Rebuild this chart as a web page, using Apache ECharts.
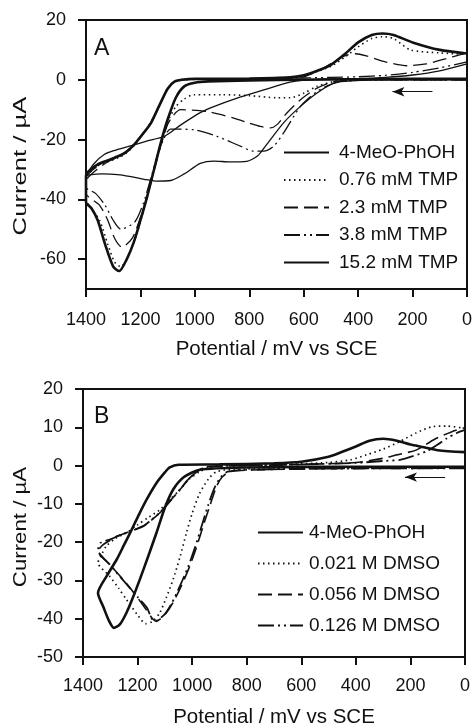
<!DOCTYPE html>
<html>
<head>
<meta charset="utf-8">
<script src="https://cdn.jsdelivr.net/npm/echarts@6/dist/echarts.min.js"></script>
<style>
  html, body { margin: 0; background: #fff; }
  #chart { width: 474px; height: 725px; }
</style>
</head>
<body>
<div id="chart"></div>
<script>
// panel A: 4-MeO-PhOH with TMP, [potential mV, current uA], forward scan then reverse
const namesA = ['4-MeO-PhOH', '0.76 mM TMP', '2.3 mM TMP', '3.8 mM TMP', '15.2 mM TMP']
const aMeoPhoh = [
  [0, 0.3], [200, 0.3], [400, 0.2], [600, 0], [800, -0.2], [950, -0.6], [1000, -1], [1039, -2.2],
  [1070, -6], [1100, -13.3], [1125, -21], [1150, -30], [1175, -39], [1200, -47], [1225, -54.5],
  [1250, -60], [1278, -64], [1300, -62.5], [1330, -55], [1357, -47], [1380, -43], [1400, -41],
  [1400, -32], [1360, -28.5], [1321, -27], [1280, -25.5], [1253, -24.2], [1223, -21.7], [1190, -18],
  [1161, -14.4], [1130, -8.5], [1100, -3], [1075, -0.6], [1040, 0.1], [1000, 0.3], [800, 0.4],
  [650, 0.8], [600, 1.5], [550, 3], [500, 5], [450, 8.5], [400, 12.5], [350, 15], [310, 15.5],
  [270, 15], [200, 12.5], [100, 10], [0, 8.8]
]
const aTmp076 = [
  [0, 0], [300, 0], [450, -0.3], [490, -0.6], [551, -2.2], [600, -4.5], [650, -6], [700, -6],
  [800, -5.3], [900, -5], [1004, -5], [1040, -6.5], [1070, -9], [1100, -14], [1125, -21], [1150, -30],
  [1175, -39], [1200, -47.5], [1225, -54.5], [1250, -60], [1272, -62.5], [1295, -61], [1320, -55],
  [1350, -47], [1380, -43], [1400, -40],
  [1400, -33], [1360, -29], [1321, -27.5], [1280, -26], [1253, -24.6], [1223, -22], [1190, -18],
  [1161, -14.4], [1130, -8.5], [1100, -3], [1075, -0.6], [1040, 0.1], [1000, 0.2], [800, 0.3],
  [650, 0.8], [600, 1.4], [550, 2.8], [500, 4.5], [450, 7.5], [400, 11], [350, 13.8], [312, 14.4],
  [270, 13.8], [208, 10], [100, 9], [0, 8.5]
]
const aTmp23 = [
  [0, 0], [300, 0], [450, -0.3], [490, -0.6], [551, -2.8], [612, -6.7], [662, -11.1], [698, -15],
  [723, -16.1], [760, -15.6], [800, -14.5], [857, -12.8], [955, -10.6], [1053, -10], [1080, -12],
  [1100, -15], [1125, -22], [1150, -30.5], [1175, -39], [1200, -46], [1230, -53], [1268, -56],
  [1295, -53], [1320, -47], [1350, -42], [1400, -38],
  [1400, -34], [1360, -30], [1321, -27.5], [1280, -25.8], [1253, -24.4], [1223, -21.7], [1190, -18],
  [1161, -14.4], [1130, -8.5], [1100, -3], [1075, -0.6], [1040, 0], [1000, 0.2], [800, 0.3],
  [650, 0.6], [600, 1], [539, 3.3], [480, 6.5], [440, 8.3], [410, 8.7], [370, 8], [300, 6],
  [219, 4.7], [150, 5.3], [80, 7], [0, 9]
]
const aTmp38 = [
  [0, 0], [300, 0], [450, -0.4], [500, -1.5], [551, -3.9], [612, -8.9], [674, -17.8], [710, -22.2],
  [747, -23.9], [784, -23.9], [833, -22.2], [919, -18.9], [1004, -16.7], [1090, -16.5], [1115, -20],
  [1140, -26], [1165, -34], [1190, -41.5], [1220, -47.5], [1272, -50], [1300, -47], [1330, -42],
  [1365, -38], [1400, -36],
  [1400, -33], [1360, -29], [1321, -27], [1280, -25.5], [1253, -24], [1223, -21.5], [1190, -17.8],
  [1161, -14], [1130, -8.5], [1100, -3], [1075, -0.6], [1040, 0], [900, 0.2], [700, 0.4],
  [500, 0.8], [400, 1], [300, 1.5], [200, 2.5], [100, 4], [0, 6]
]
const aTmp152 = [
  [0, 0], [300, 0], [450, -0.5], [490, -1.1], [551, -4.4], [612, -8.9], [674, -14.4], [735, -21.5],
  [770, -25.5], [810, -27.3], [870, -27.5], [930, -27.2], [980, -28], [1039, -31.5], [1088, -33.7],
  [1145, -33.9], [1186, -33.3], [1240, -32.3], [1284, -31.7], [1340, -31.5], [1400, -32],
  [1370, -28], [1333, -25], [1290, -23.5], [1247, -22.4], [1180, -20.6], [1112, -18.9], [1050, -15],
  [980, -11], [928, -8.9], [850, -6.3], [750, -3.5], [650, -0.8], [550, 0.2], [400, 0.4],
  [300, 0.8], [200, 1.6], [100, 3], [0, 5.3]
]

// panel B: 4-MeO-PhOH with DMSO
const namesB = ['4-MeO-PhOH', '0.021 M DMSO', '0.056 M DMSO', '0.126 M DMSO']
const bMeoPhoh = [
  [0, -0.3], [400, -0.3], [800, -0.5], [972, -1.1], [1030, -3], [1070, -6.3], [1100, -11],
  [1131, -17.6], [1160, -23.5], [1192, -29.8], [1220, -35], [1241, -38.5], [1265, -41.5],
  [1287, -42.4], [1305, -40.5], [1325, -37], [1345, -33.3],
  [1310, -28.5], [1277, -24.6], [1250, -20.8], [1222, -16.8], [1195, -12.8], [1167, -8.9],
  [1130, -4.5], [1100, -1.8], [1082, -0.5], [1050, 0.2], [900, 0.3], [700, 0.6], [600, 1],
  [500, 2.3], [450, 3.6], [400, 5], [350, 6.5], [300, 7], [250, 6.5], [200, 5.5], [150, 4.8],
  [100, 4], [0, 3.5]
]
const bDmso021 = [
  [0, -0.5], [500, -0.6], [850, -1], [911, -1.6], [940, -3.5], [972, -7.2], [1000, -12.5],
  [1021, -17.6], [1045, -24], [1070, -29.8], [1095, -34.5], [1119, -38.5], [1145, -40.7],
  [1170, -41.3], [1200, -39], [1241, -35], [1270, -32], [1302, -28.9], [1345, -25.4],
  [1330, -23], [1314, -21], [1280, -19], [1241, -17.6], [1200, -15.5], [1160, -13.5], [1119, -11.6],
  [1080, -8.8], [1045, -6.3], [1010, -3.5], [972, -1.6], [940, -0.6], [900, 0], [700, 0.2],
  [500, 0.8], [420, 1.5], [361, 2.8], [300, 4.3], [238, 6.3], [180, 8.5], [116, 10.2],
  [67, 10.3], [0, 9.7]
]
const bDmso056 = [
  [0, -0.7], [500, -0.8], [800, -1.2], [862, -1.6], [890, -3], [911, -5.5], [935, -10.5],
  [960, -15.9], [985, -21.5], [1009, -26.3], [1040, -31.5], [1070, -35.8], [1095, -38.5],
  [1119, -40.2], [1131, -40.7], [1145, -40], [1170, -37.5], [1200, -34.5], [1250, -30],
  [1300, -26], [1345, -22.4],
  [1327, -20.7], [1300, -19.5], [1278, -18.5], [1230, -17.3], [1180, -15.9], [1150, -14.3],
  [1119, -12.4], [1080, -9.2], [1045, -6.3], [1010, -3.3], [972, -1.1], [940, -0.3], [800, 0],
  [600, 0.3], [400, 0.8], [300, 1.9], [250, 2.8], [177, 4.1], [116, 6.7], [50, 8.8], [0, 9.9]
]
const bDmso126 = [
  [0, -0.7], [500, -0.8], [800, -1.1], [870, -1.6], [895, -3], [918, -5.8], [942, -10.5],
  [966, -16], [990, -21.5], [1015, -26.5], [1045, -31.5], [1075, -36], [1100, -38.8],
  [1125, -40.3], [1137, -40.6], [1150, -39.8], [1165, -37.2], [1200, -34.3], [1250, -30.2],
  [1300, -26], [1345, -22],
  [1336, -20.2], [1300, -19.3], [1275, -18.5], [1230, -17.2], [1180, -15.8], [1150, -14.2],
  [1119, -12.3], [1080, -9.2], [1045, -6.3], [1010, -3.3], [972, -1.1], [940, -0.3], [800, 0],
  [600, 0.3], [400, 0.7], [300, 1.2], [238, 1.5], [190, 2.5], [141, 3.7], [100, 5.5], [67, 7.1],
  [30, 8.5], [0, 9.3]
]

// scan direction arrows, [mV, uA]
const arrowA = [[127, -4], [274, -4]]
const arrowB = [[73, -3], [220, -3]]

const yTicksA = [-60, -40, -20, 0, 20]

const font = 'Liberation Sans, Arial, sans-serif'
const ink = '#111'

const lineStylesA = [
  { width: 2.6, type: 'solid' },
  { width: 1.6, type: [1.5, 3.5] },
  { width: 1.3, type: [14, 6] },
  { width: 1.3, type: [16, 4, 2, 4, 2, 4] },
  { width: 1.3, type: 'solid' }
]
const lineStylesB = [
  { width: 2.6, type: 'solid' },
  { width: 1.7, type: [1.5, 3.5] },
  { width: 1.6, type: [14, 6] },
  { width: 1.8, type: [16, 4, 2, 4, 2, 4] }
]

const tick = { show: true, inside: false, length: 8, lineStyle: { color: ink, width: 2 } }

const xAxisBase = (gridIndex, labelMargin, nameGap) => ({
  gridIndex,
  type: 'value',
  inverse: true,
  min: 0,
  max: 1400,
  interval: 200,
  name: 'Potential / mV vs SCE',
  nameLocation: 'middle',
  nameGap,
  nameTextStyle: { fontFamily: font, fontSize: 20.5, color: ink },
  axisLine: { show: true, onZero: false, lineStyle: { color: ink, width: 2 } },
  axisTick: tick,
  axisLabel: { margin: labelMargin, fontFamily: font, fontSize: 18, color: ink, formatter: v => String(v) },
  splitLine: { show: false }
})

const yAxisBase = (gridIndex) => ({
  gridIndex,
  type: 'value',
  axisLine: { show: true, onZero: false, lineStyle: { color: ink, width: 2 } },
  axisTick: tick,
  axisLabel: { margin: 20, fontFamily: font, fontSize: 18, color: ink },
  splitLine: { show: false }
})

const mkSeries = (name, data, style, i, panel) => ({
  name,
  type: 'line',
  xAxisIndex: panel,
  yAxisIndex: panel,
  data,
  symbol: 'none',
  smooth: 0.25,
  lineStyle: { color: ink, ...style },
  itemStyle: { color: ink },
  z: 5 - i
})

const seriesA = [aMeoPhoh, aTmp076, aTmp23, aTmp38, aTmp152].map((d, i) => mkSeries(namesA[i], d, lineStylesA[i], i, 0))
const seriesB = [bMeoPhoh, bDmso021, bDmso056, bDmso126].map((d, i) => mkSeries(namesB[i], d, lineStylesB[i], i, 1))

const arrowMark = (pts) => ({
  silent: true,
  symbol: ['none', 'arrow'],
  symbolSize: [7, 12],
  label: { show: false },
  lineStyle: { color: ink, width: 1.2, type: 'solid' },
  data: [[{ coord: pts[0] }, { coord: pts[1] }]]
})
seriesA[0].markLine = arrowMark(arrowA)
seriesB[0].markLine = arrowMark(arrowB)

const legendBase = {
  orient: 'vertical',
  padding: 0,
  itemWidth: 45,
  itemHeight: 14,
  selectedMode: false,
  itemStyle: { opacity: 0 }
}

const yTitle = (x, y, sx) => ({
  type: 'text',
  x,
  y,
  rotation: Math.PI / 2,
  scaleX: sx,
  style: {
    text: 'Current / µA',
    font: '19px ' + font,
    fill: ink,
    textAlign: 'center',
    textVerticalAlign: 'middle'
  }
})

const chart = echarts.init(document.getElementById('chart'), null, { renderer: 'canvas' })
chart.setOption({
  backgroundColor: '#fff',
  animation: false,
  title: [
    { text: 'A', left: 89, top: 32, textStyle: { fontFamily: font, fontSize: 23, fontWeight: 'normal', color: ink } },
    { text: 'B', left: 89, top: 400, textStyle: { fontFamily: font, fontSize: 23, fontWeight: 'normal', color: ink } }
  ],
  graphic: [yTitle(21, 166, 1.35), yTitle(21, 527, 1.17)],
  grid: [
    { left: 86, top: 20, width: 381, height: 269, show: true, borderColor: ink, borderWidth: 2, outerBoundsMode: 'none' },
    { left: 83, top: 389, width: 382, height: 268, show: true, borderColor: ink, borderWidth: 2, outerBoundsMode: 'none' }
  ],
  xAxis: [xAxisBase(0, 22, 50), xAxisBase(1, 20, 50)],
  yAxis: [
    Object.assign(yAxisBase(0), {
      min: -70,
      max: 20,
      axisTick: Object.assign({}, tick, { customValues: yTicksA }),
      axisLabel: { margin: 20, fontFamily: font, fontSize: 18, color: ink, customValues: yTicksA }
    }),
    Object.assign(yAxisBase(1), { min: -50, max: 20, interval: 10 })
  ],
  legend: [
    Object.assign({}, legendBase, {
      left: 283, top: 143, itemGap: 8.5, data: namesA,
      textStyle: { fontFamily: font, fontSize: 19, color: ink, padding: [0, 0, 0, 5] }
    }),
    Object.assign({}, legendBase, {
      left: 257, top: 523, itemGap: 12, data: namesB,
      textStyle: { fontFamily: font, fontSize: 19, color: ink, padding: [0, 0, 0, 1] }
    })
  ],
  series: seriesA.concat(seriesB)
})
</script>
</body>
</html>
